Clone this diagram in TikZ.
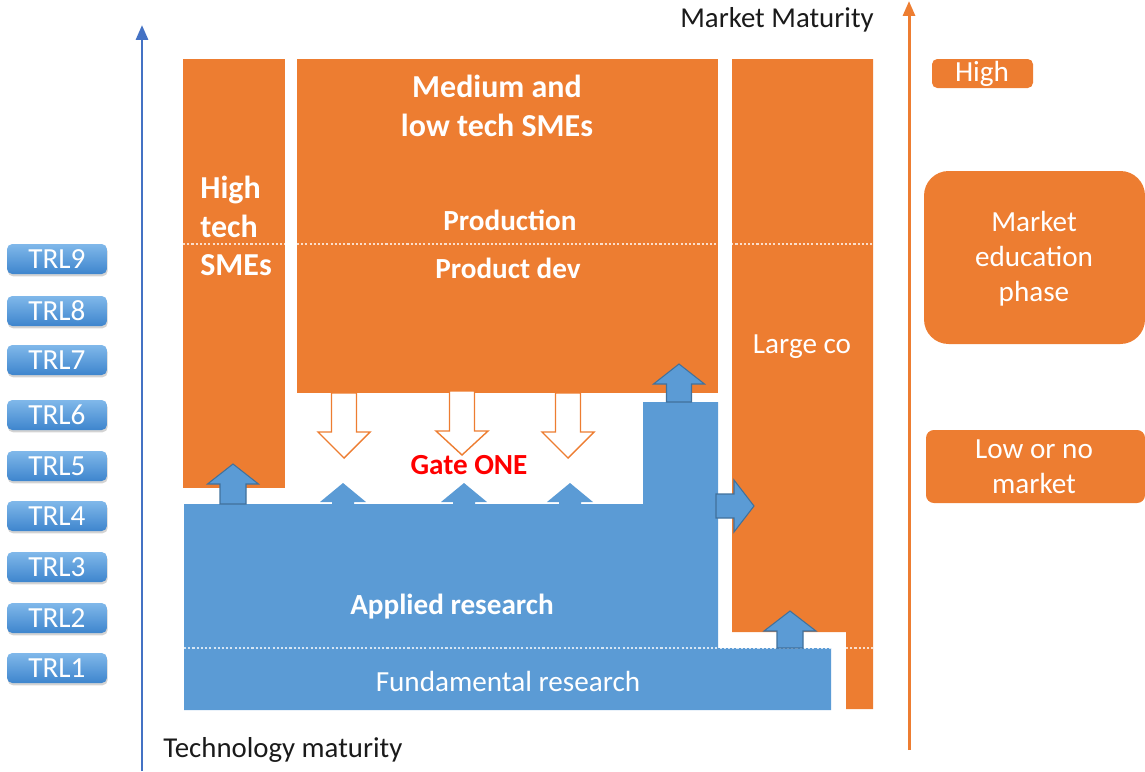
\documentclass[tikz,border=0pt]{standalone}
\usepackage{fontspec}
\setmainfont{Carlito}
\usetikzlibrary{arrows.meta,shadows}
\definecolor{orng}{HTML}{ED7D31}
\definecolor{blu}{HTML}{5B9BD5}
\definecolor{bluedge}{HTML}{41719C}
\definecolor{axisblue}{HTML}{4472C4}
\definecolor{trltop}{HTML}{80B8EA}
\definecolor{trlbot}{HTML}{3E85CD}
\definecolor{ink}{HTML}{1A1A1A}

% block arrow along y: style, cx, base, head base, tip, half shaft, half head
\newcommand\blkarrv[7]{%
  \path[#1] ({#2-#6},#3) -- ({#2-#6},#4) -- ({#2-#7},#4) -- (#2,#5)
    -- ({#2+#7},#4) -- ({#2+#6},#4) -- ({#2+#6},#3) -- cycle;}
% block arrow along x: style, cy, base, head base, tip, half shaft, half head
\newcommand\blkarrh[7]{%
  \path[#1] (#3,{#2-#6}) -- (#4,{#2-#6}) -- (#4,{#2-#7}) -- (#5,#2)
    -- (#4,{#2+#7}) -- (#4,{#2+#6}) -- (#3,{#2+#6}) -- cycle;}

\begin{document}
\begin{tikzpicture}[x=0.02cm,y=-0.02cm,
  txt/.style={text=white,align=center,inner sep=0pt,
    font=\fontsize{16.6}{22.1}\selectfont},
  btxt/.style={txt,font=\fontsize{16.6}{22.1}\selectfont\bfseries},
  htxt/.style={txt,font=\fontsize{18.2}{22.1}\selectfont\bfseries},
  rtxt/.style={txt,font=\fontsize{16.6}{19.8}\selectfont},
  axtxt/.style={text=ink,inner sep=0pt,font=\fontsize{16.4}{19}\selectfont},
  trl/.style={rounded corners=3pt,top color=trltop,bottom color=trlbot,
    drop shadow={opacity=0.35,shadow xshift=0.4pt,shadow yshift=-1.3pt},
    minimum width=2cm,minimum height=0.6cm,text=white,inner sep=0pt,
    font=\fontsize{16.6}{19}\selectfont},
  obox/.style={fill=orng},
  bbox/.style={fill=blu},
  sep/.style={white,opacity=0.75,line width=0.6pt,dash pattern=on 1.2pt off 1.2pt},
  uparr/.style={fill=blu,draw=bluedge,line width=0.6pt},
  gatearr/.style={fill=blu},
  downarr/.style={fill=white,draw=orng,line width=0.8pt},
]
\useasboundingbox (0,0) rectangle (1145,771);

% axes
\draw[axisblue,line width=1.7pt,-{Triangle[length=0.3cm,width=0.24cm]}] (142,771) -- (142,25);
\draw[orng,line width=1.7pt,-{Triangle[length=0.3cm,width=0.24cm]}] (909,750) -- (909,1);
\node[axtxt] (mm) at (777,20) {Market Maturity};
\node[axtxt,anchor=west] (tm) at (163,750) {Technology maturity};

% technology readiness levels
\node[trl] (trl9) at (57,259) {TRL9};
\node[trl] (trl8) at (57,311) {TRL8};
\node[trl] (trl7) at (57,360) {TRL7};
\node[trl] (trl6) at (57,415) {TRL6};
\node[trl] (trl5) at (57,466) {TRL5};
\node[trl] (trl4) at (57,516) {TRL4};
\node[trl] (trl3) at (57,567) {TRL3};
\node[trl] (trl2) at (57,618) {TRL2};
\node[trl] (trl1) at (57,668) {TRL1};

% company blocks
\fill[obox] (183,59) rectangle (285,488);
\fill[obox] (297,59) rectangle (718,393);
\fill[obox] (732,59) -- (873,59) -- (873,709) -- (846,709) -- (846,632) -- (732,632) -- cycle;

% research block
\fill[bbox] (184,504) -- (643,504) -- (643,402) -- (718,402) -- (718,648)
  -- (831,648) -- (831,710) -- (184,710) -- cycle;

% phase separators
\draw[sep] (183,244) -- (873,244);
\draw[sep] (184,648) -- (873,648);

% labels in blocks
\node[htxt,align=left,anchor=west] (hitech) at (200,226) {High\\tech\\SMEs};
\node[htxt] (medlow) at (497,106) {Medium and\\low tech SMEs};
\node[btxt] (prod) at (510,220) {Production};
\node[btxt] (pdev) at (508,268) {Product dev};
\node[txt] (large) at (802,347) {Large co};
\node[btxt] (applied) at (452,607) {Applied research};
\node[txt] (fund) at (508,681) {Fundamental research};
\node[btxt,text=red] (gate) at (469,465) {Gate ONE};

% demand arrows from SMEs
\blkarrv{downarr}{344}{393}{432}{458}{12.5}{26}
\blkarrv{downarr}{462}{391}{431}{455}{12.5}{26}
\blkarrv{downarr}{568}{393}{432}{458}{12.5}{26}

% transfer arrows from research
\blkarrv{gatearr}{343}{506}{502}{483}{11}{23}
\blkarrv{gatearr}{464}{506}{502}{483}{11}{23}
\blkarrv{gatearr}{570}{506}{502}{483}{11}{23}
\blkarrv{uparr}{233}{504}{484}{464}{13}{25.5}
\blkarrv{uparr}{679}{402}{384}{364}{12.5}{25.5}
\blkarrv{uparr}{790}{648}{631}{611}{13}{26}
\blkarrh{uparr}{506}{716}{734}{754}{12}{26}

% market maturity stages
\fill[orng,rounded corners=3pt] (932,59) rectangle (1033,88);
\node[txt] (high) at (982,74) {High};
\fill[orng,rounded corners=14pt] (924,171) rectangle (1145,344);
\node[rtxt] (edu) at (1034,259) {Market\\education\\phase};
\fill[orng,rounded corners=4.5pt] (926,430) rectangle (1145,503);
\node[rtxt] (low) at (1034,467) {Low or no\\market};
\end{tikzpicture}
\end{document}
